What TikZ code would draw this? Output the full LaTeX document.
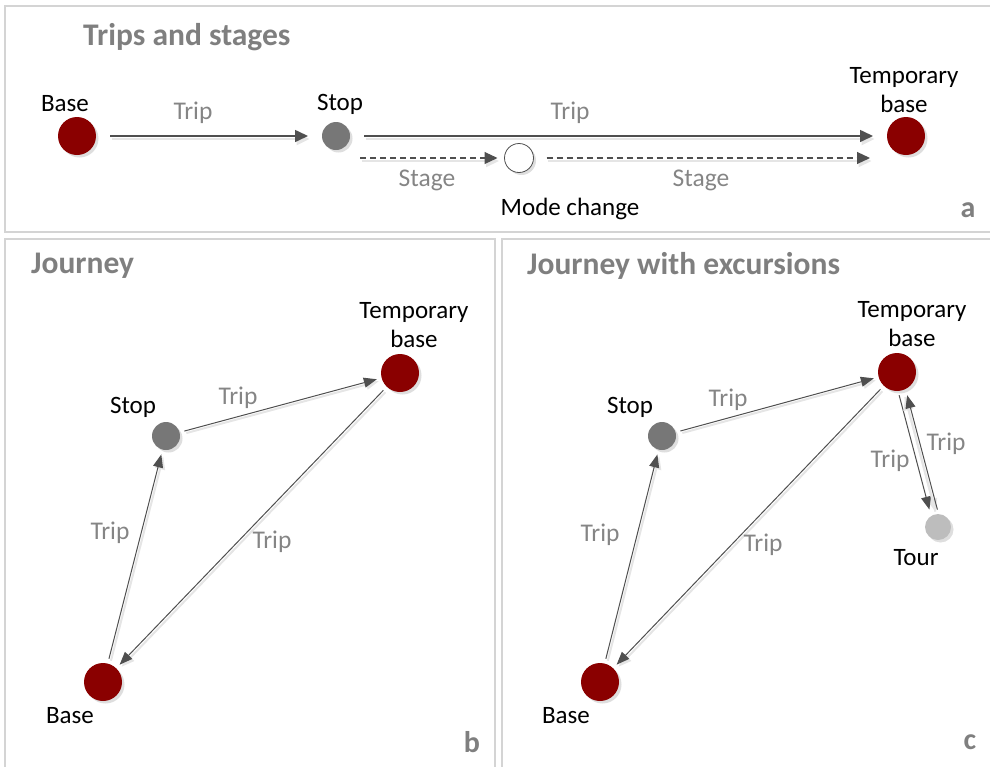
\documentclass[tikz,border=0pt]{standalone}
\usepackage{fontspec}
\setmainfont{Carlito}
\usepackage{xcolor}
\usetikzlibrary{arrows.meta}
\usetikzlibrary{shadows}

\definecolor{basered}{HTML}{8A0000}
\definecolor{stopgray}{HTML}{777777}
\definecolor{tourgray}{HTML}{BDBDBD}
\definecolor{arrowgray}{HTML}{4F4F4F}
\definecolor{labelgray}{HTML}{858585}
\definecolor{titlegray}{HTML}{7F7F7F}
\definecolor{framegray}{HTML}{D4D4D4}

\begin{document}
\begin{tikzpicture}[x=1pt, y=-1pt,
    panelbox/.style={draw=framegray, line width=1.5pt},
    paneltitle/.style={font=\bfseries\fontsize{31.5}{36}\selectfont, text=titlegray, anchor=west, inner sep=0pt},
    panelmark/.style={font=\bfseries\fontsize{30}{36}\selectfont, text=titlegray},
    placelbl/.style={font=\fontsize{25}{29}\selectfont, text=black, align=center},
    triplbl/.style={font=\fontsize{25.5}{29}\selectfont, text=labelgray},
    ptshadow/.style={drop shadow={shadow xshift=2.5pt, shadow yshift=-2.5pt, fill=black, opacity=0.13}},
    homept/.style={circle, fill=basered, minimum size=38pt, inner sep=0pt, outer sep=0pt, ptshadow},
    stoppt/.style={circle, fill=stopgray, minimum size=28pt, inner sep=0pt, outer sep=0pt, ptshadow},
    tourpt/.style={circle, fill=tourgray, minimum size=26pt, inner sep=0pt, outer sep=0pt, ptshadow},
    modept/.style={circle, draw=arrowgray, fill=white, line width=0.8pt, minimum size=29pt, inner sep=0pt, outer sep=0pt, ptshadow},
    tripline/.style={draw=arrowgray, line width=1.6pt, -{Triangle[length=13pt, width=12pt]},
        shorten <=14pt, shorten >=14pt,
        preaction={draw=black!10, line width=2.5pt, transform canvas={shift={(1.5pt,-3pt)}}}},
    stageline/.style={draw=arrowgray, line width=1.1pt, dash pattern=on 6pt off 4pt,
        -{Triangle[length=13pt, width=12pt]},
        preaction={draw=black!10, line width=2pt, solid, transform canvas={shift={(1.5pt,-3pt)}}}},
    tripthin/.style={draw=arrowgray, line width=1pt, -{Triangle[length=13pt, width=10pt]},
        shorten <=5pt, shorten >=5pt,
        preaction={draw=black!10, line width=2pt, transform canvas={shift={(2pt,-2pt)}}}}
    ]
    \useasboundingbox (0,0) rectangle (990,766);

    \draw[panelbox] (5,6) rectangle (995,232);
    \draw[panelbox] (5,770) -- (5,239) -- (495,239) -- (495,770);
    \draw[panelbox] (502,770) -- (502,239) -- (995,239);

    \node[paneltitle] (ttla) at (83,37) {Trips and stages};
    \node[paneltitle] (ttlb) at (31,266) {Journey};
    \node[paneltitle] (ttlc) at (527,266) {Journey with excursions};
    \node[panelmark] (mka) at (968,210) {a};
    \node[panelmark] (mkb) at (472,742) {b};
    \node[panelmark] (mkc) at (970,742) {c};

    \node[homept] (home1) at (77,136) {};
    \node[placelbl] (home1l) at (65,104) {Base};
    \node[stoppt] (stop1) at (336,136) {};
    \node[placelbl] (stop1l) at (340,104) {Stop};
    \node[modept] (mode1) at (519,158) {};
    \node[placelbl] (mode1l) at (570,209) {Mode change};
    \node[homept] (temp1) at (906,136) {};
    \node[placelbl] (temp1l) at (904,90) {Temporary\\base};
    \coordinate (stop1s) at (360,158);
    \coordinate (temp1s) at (870,158);

    \draw[tripline] (home1) -- (stop1);
    \draw[tripline] (stop1) -- (temp1);
    \draw[stageline, shorten >=7pt] (stop1s) -- (mode1);
    \draw[stageline, shorten <=13pt] (mode1) -- (temp1s);
    \node[triplbl] (trip1a) at (193,113) {Trip};
    \node[triplbl] (trip1b) at (570,113) {Trip};
    \node[triplbl] (stage1a) at (427,180) {Stage};
    \node[triplbl] (stage1b) at (701,180) {Stage};

    \node[homept] (home2) at (103,682) {};
    \node[placelbl] (home2l) at (70,716) {Base};
    \node[stoppt] (stop2) at (166,436) {};
    \node[placelbl] (stop2l) at (133,407) {Stop};
    \node[homept] (temp2) at (400,373) {};
    \node[placelbl] (temp2l) at (414,325) {Temporary\\base};

    \draw[tripthin] (home2) -- (stop2);
    \draw[tripthin] (stop2) -- (temp2);
    \draw[tripthin] (temp2) -- (home2);
    \node[triplbl] (trip2a) at (110,533) {Trip};
    \node[triplbl] (trip2b) at (238,398) {Trip};
    \node[triplbl] (trip2c) at (272,542) {Trip};

    \node[homept] (home3) at (600,682) {};
    \node[placelbl] (home3l) at (566,716) {Base};
    \node[stoppt] (stop3) at (662,436) {};
    \node[placelbl] (stop3l) at (630,407) {Stop};
    \node[homept] (temp3) at (897,372) {};
    \node[placelbl] (temp3l) at (912,324) {Temporary\\base};
    \node[tourpt] (tour3) at (938,527) {};
    \node[placelbl] (tour3l) at (916,558) {Tour};

    \draw[tripthin] (home3) -- (stop3);
    \draw[tripthin] (stop3) -- (temp3);
    \draw[tripthin] (temp3) -- (home3);
    \draw[tripthin, transform canvas={xshift=-4pt}] (temp3) -- (tour3);
    \draw[tripthin, transform canvas={xshift=4pt}] (tour3) -- (temp3);
    \node[triplbl] (trip3a) at (600,535) {Trip};
    \node[triplbl] (trip3b) at (728,400) {Trip};
    \node[triplbl] (trip3c) at (763,545) {Trip};
    \node[triplbl] (trip3d) at (890,461) {Trip};
    \node[triplbl] (trip3e) at (946,444) {Trip};
\end{tikzpicture}
\end{document}
